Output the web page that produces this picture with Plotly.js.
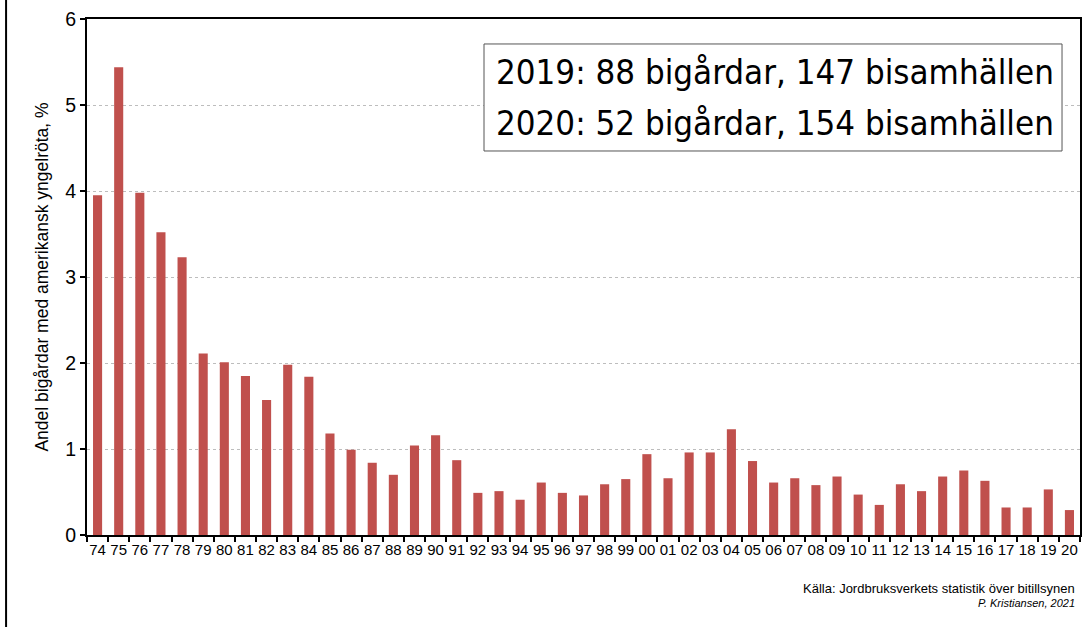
<!DOCTYPE html>
<html><head><meta charset="utf-8">
<script src="https://cdn.plot.ly/plotly-3.0.1.min.js"></script>
<style>body{margin:0;background:#fff}#c{width:1083px;height:627px}</style>
</head><body><div id="c"></div>
<script>
const years = ["74","75","76","77","78","79","80","81","82","83","84","85","86","87","88","89","90","91","92","93","94","95","96","97","98","99","00","01","02","03","04","05","06","07","08","09","10","11","12","13","14","15","16","17","18","19","20"];
const share = [3.95,5.44,3.98,3.52,3.23,2.11,2.01,1.85,1.57,1.98,1.84,1.18,0.99,0.84,0.70,1.04,1.16,0.87,0.49,0.51,0.41,0.61,0.49,0.46,0.59,0.65,0.94,0.66,0.96,0.96,1.23,0.86,0.61,0.66,0.58,0.68,0.47,0.35,0.59,0.51,0.68,0.75,0.63,0.32,0.32,0.53,0.29];
const boxLines = ["2019: 88 bigårdar, 147 bisamhällen","2020: 52 bigårdar, 154 bisamhällen"];
const yTitle = "Andel bigårdar med amerikansk yngelröta, %";
const source = "Källa: Jordbruksverkets statistik över bitillsynen";
const author = "P. Kristiansen, 2021";

const F = "Liberation Sans, Arial, sans-serif";
const BF = "DejaVu Sans Condensed, DejaVu Sans";
const data = [{type:"bar", x:years, y:share, marker:{color:"#C0504D"}, hoverinfo:"x+y"}];
const layout = {
  width:1083, height:627,
  margin:{l:87, r:3, t:19, b:92},
  paper_bgcolor:"#fff", plot_bgcolor:"#fff",
  bargap:0.57, showlegend:false,
  font:{family:F, color:"#000"},
  xaxis:{type:"category", tickson:"boundaries", ticks:"outside", ticklen:5, tickwidth:2, tickcolor:"#000",
    showline:true, linecolor:"#000", linewidth:2, mirror:true, showgrid:false,
    tickfont:{family:F, size:15, color:"#000"}, tickangle:0},
  yaxis:{range:[0,6], dtick:1, ticks:"outside", ticklen:5, tickwidth:2, tickcolor:"#000",
    showline:true, linecolor:"#000", linewidth:2, mirror:true,
    showgrid:true, gridcolor:"#bdbdbd", griddash:"dot", gridwidth:1, zeroline:false,
    tickfont:{family:F, size:19.5, color:"#000"},
    title:{text:yTitle, font:{family:F, size:17.5, color:"#000"}, standoff:12}},
  shapes:[
    {type:"line", xref:"paper", yref:"paper", x0:-0.0815, x1:-0.0815, y0:-0.2, y1:1.06, line:{color:"#000", width:2}},
    {type:"rect", xref:"paper", yref:"paper", x0:0.3998, x1:0.9819, y0:0.7442, y1:0.9516, line:{color:"#555", width:1}, fillcolor:"#fff", layer:"above"}
  ],
  annotations:[
    {xref:"paper", yref:"paper", x:0.4095, y:0.897, text:boxLines[0], showarrow:false, xanchor:"left", yanchor:"middle", font:{family:BF, size:34.6, color:"#000"}},
    {xref:"paper", yref:"paper", x:0.4095, y:0.798, text:boxLines[1], showarrow:false, xanchor:"left", yanchor:"middle", font:{family:BF, size:34.6, color:"#000"}},
    {xref:"paper", yref:"paper", x:0.997, y:-0.103, text:source, showarrow:false, xanchor:"right", yanchor:"middle", font:{family:F, size:13, color:"#000"}},
    {xref:"paper", yref:"paper", x:0.997, y:-0.132, text:"<i>"+author+"</i>", showarrow:false, xanchor:"right", yanchor:"middle", font:{family:F, size:11, color:"#000"}}
  ]
};
Plotly.newPlot("c", data, layout, {displayModeBar:false, staticPlot:true});
</script></body></html>
